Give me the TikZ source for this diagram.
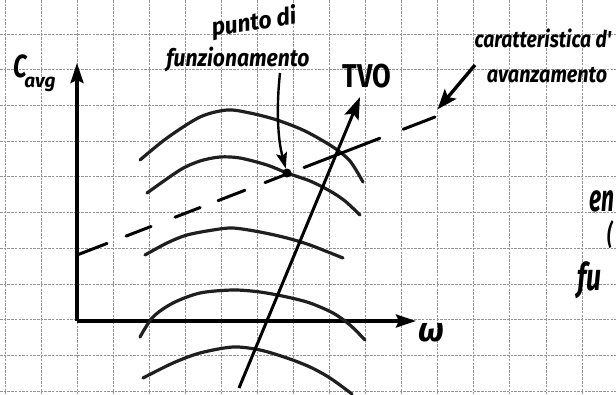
\documentclass[tikz,border=0pt]{standalone}
\usepackage{fontspec}
\newfontfamily\handfont{Fira Sans}
\usetikzlibrary{arrows.meta,calc}
\begin{document}
\begin{tikzpicture}[x=1pt,y=-1pt,
  gridline/.style={black!42, line width=0.7pt, dash pattern=on 2.5pt off 1.2pt},
  axisline/.style={line width=3.2pt, -{Stealth[length=20pt,width=13pt,inset=3pt]}},
  arcline/.style={line width=3.2pt, line cap=round, black!88},
  dashseg/.style={line width=3pt, line cap=round},
  hand/.style={font=\handfont\bfseries\itshape, inner sep=0pt},
  pointer/.style={line width=2.4pt, -{Stealth[length=16pt,width=11pt,inset=3pt]}},
]
\useasboundingbox (0,0) rectangle (616,394);
\clip (0,0) rectangle (616,394);
\fill[white] (0,0) rectangle (616,394);
% grid paper
\foreach \k in {0,...,16} \draw[gridline] ({5+36.06*\k},0) -- ({5+36.06*\k},394);
\foreach \k in {0,...,10} \draw[gridline] (0,{34+35.7*\k}) -- (616,{34+35.7*\k});

% axes
\coordinate (O) at (77,321);
\coordinate (ytip) at (77,63);
\coordinate (xtip) at (416,321);
\draw[axisline] (O) -- (ytip);
\draw[axisline] (O) -- (xtip);

% torque curves
\draw[arcline] plot[smooth] coordinates {(140,160) (167,138) (200,117) (227,110) (250,113) (277,120) (305,131) (333,147) (350,161) (363,182)};
\draw[arcline] plot[smooth] coordinates {(147,193) (180,170) (200,161) (220,157) (240,158) (267,165) (287,173) (310,181) (330,191) (345,201) (360,215)};
\draw[arcline] plot[smooth] coordinates {(145,255) (167,243) (187,235) (213,230) (233,228) (260,232) (287,238) (310,245) (343,258)};
\draw[arcline] plot[smooth] coordinates {(140,337) (153,317) (173,303) (200,293) (233,290) (260,292) (287,297) (310,303) (333,313) (350,325) (365,340)};
\draw[arcline] plot[smooth] coordinates {(143,378) (173,363) (200,353) (233,347) (260,350) (287,358) (310,367) (330,378) (352,394)};

% TVO arrow
\coordinate (tvoS) at (239,388);
\coordinate (tvoE) at (360,97);
\draw[line width=3pt, -{Stealth[length=22pt,width=15pt,inset=4pt]}] (tvoS) -- (tvoE);
\node[font=\handfont\bfseries, inner sep=0pt, xscale=0.82] (tvo) at (367,76) {\fontsize{33}{33}\selectfont TVO};

% dashed advancement characteristic
\coordinate (dA) at (77,255);
\coordinate (dB) at (435,117);
\foreach \a/\b in {0/0.084, 0.137/0.207, 0.274/0.344, 0.394/0.469, 0.525/0.589, 0.634/0.846, 0.911/1}
  \draw[dashseg] ($(dA)!\a!(dB)$) -- ($(dA)!\b!(dB)$);

% operating point
\node[circle, fill=black, inner sep=0pt, minimum size=9pt] (op) at (287,173) {};

% labels
\node[hand, rotate=8, xscale=0.95] (punto) at (254,23) {\fontsize{24}{24}\selectfont punto di};
\node[hand, anchor=base, xscale=0.88] (funz) at (238,66) {\fontsize{24}{24}\selectfont funzionamento};
\coordinate (funzArrow) at (280,73);
\draw[pointer] (funzArrow) .. controls (276,110) and (278,140) .. (op);

\node[hand, anchor=base, xscale=0.84] (carat) at (543,47) {\fontsize{23}{23}\selectfont caratteristica d'};
\node[hand, anchor=base, xscale=0.86] (avanz) at (547,82) {\fontsize{23}{23}\selectfont avanzamento};
\coordinate (avS) at (475,65);
\node[inner sep=0pt] (avE) at (437,110) {};
\draw[line width=3.4pt, -{Stealth[length=20pt,width=15pt,inset=4pt]}] (avS) -- (avE);

\node[hand, xscale=0.75] (clab) at (20,66) {\fontsize{32}{32}\selectfont C};
\node[hand] (csub) at (40,84) {\fontsize{19}{19}\selectfont avg};

\node[hand] (omega) at (431,333) {\fontsize{34}{34}\selectfont ω};

% partially visible words at the right edge
\node[hand, anchor=base west, xscale=0.6] (en) at (589,211) {\fontsize{38}{38}\selectfont en};
\node[hand, anchor=base west, xscale=0.6] (par) at (607,244) {\fontsize{28}{28}\selectfont (};
\node[hand, anchor=base west, xscale=0.7] (fu) at (577,290) {\fontsize{38}{38}\selectfont fu};
\end{tikzpicture}
\end{document}
